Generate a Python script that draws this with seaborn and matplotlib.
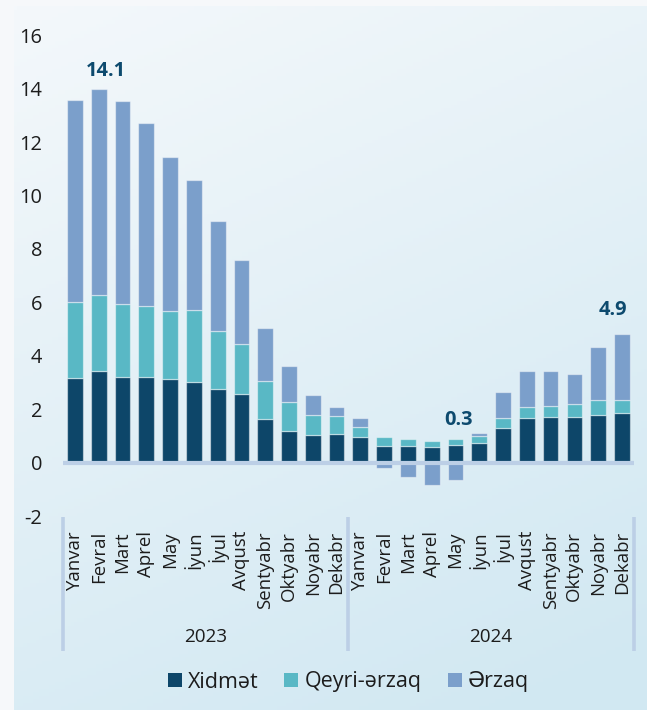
import numpy as np
import matplotlib
matplotlib.use("Agg")
import matplotlib.pyplot as plt
import matplotlib.transforms as mtransforms
from matplotlib.patches import Patch
import seaborn as sns

# ---------------- data ----------------
months = ["Yanvar", "Fevral", "Mart", "Aprel", "May", "İyun", "İyul",
          "Avqust", "Sentyabr", "Oktyabr", "Noyabr", "Dekabr"]
years = ["2023", "2024"]

xidmet = [3.18, 3.43, 3.20, 3.20, 3.15, 3.02, 2.77, 2.57, 1.62, 1.20, 1.05, 1.09,
          0.95, 0.64, 0.64, 0.58, 0.66, 0.73, 1.28, 1.68, 1.70, 1.71, 1.80, 1.86]
qeyri_erzaq = [2.82, 2.83, 2.73, 2.68, 2.52, 2.69, 2.16, 1.89, 1.43, 1.07, 0.72, 0.65,
               0.40, 0.31, 0.24, 0.22, 0.24, 0.28, 0.41, 0.40, 0.43, 0.47, 0.54, 0.50]
erzaq = [7.58, 7.74, 7.62, 6.83, 5.78, 4.86, 4.11, 3.12, 2.00, 1.36, 0.77, 0.34,
         0.32, -0.19, -0.55, -0.85, -0.65, 0.09, 0.95, 1.36, 1.31, 1.15, 1.99, 2.45]

series_names = ["Xidmət", "Qeyri-ərzaq", "Ərzaq"]
series_colors = ["#0d4669", "#59b8c5", "#7b9fcb"]

y_ticks = [-2, 0, 2, 4, 6, 8, 10, 12, 14, 16]
y_tick_labels = ["-2", "0", "2", "4", "6", "8", "10", "12", "14", "16"]

annot_idx = [1, 16, 23]
annot_text = ["14.1", "0.3", "4.9"]
annot_offsets = [(5, 9), (2, 9.5), (-6.5, 13.5)]  # points

# ---------------- setup ----------------
plt.rcParams["font.family"] = ["Open Sans", "DejaVu Sans"]
plt.rcParams["axes.unicode_minus"] = False

W, H = 647, 710
fig = plt.figure(figsize=(W / 100, H / 100), dpi=100)
fig.patch.set_facecolor("#f6f8fa")

# gradient background panel
bg = fig.add_axes([14 / W, 0, 1 - 14 / W, 704 / H], zorder=-10)
nx, ny = 200, 200
xx, yy = np.meshgrid(np.linspace(0, 1, nx), np.linspace(0, 1, ny))
t = np.clip(0.3 * xx + 0.75 * yy, 0, 1)
c0 = np.array([0xf4, 0xf8, 0xfb]) / 255
c1 = np.array([0xd1, 0xe8, 0xf2]) / 255
img = c0[None, None, :] * (1 - t[..., None]) + c1[None, None, :] * t[..., None]
bg.imshow(img, aspect="auto", extent=[0, 1, 1, 0], origin="upper")
bg.set_axis_off()

left_px, right_px = 63.1, 633.8
top_px, bottom_px = 35.2, 516.1
ax = fig.add_axes([left_px / W, 1 - bottom_px / H,
                   (right_px - left_px) / W, (bottom_px - top_px) / H])
ax.set_facecolor("none")

n = len(xidmet)
cats = [f"{years[i // 12]}-{months[i % 12]}" for i in range(n)]

x_arr = np.array(xidmet)
q_arr = np.array(qeyri_erzaq)
e_arr = np.array(erzaq)
bottoms = [np.zeros(n), x_arr, np.where(e_arr >= 0, x_arr + q_arr, 0.0)]
values = [x_arr, q_arr, e_arr]

for vals, bots, col in zip(values, bottoms, series_colors):
    sns.barplot(x=cats, y=vals, bottom=bots, order=cats, color=col,
                width=0.66, errorbar=None, ax=ax, saturation=1,
                edgecolor=(1, 1, 1, 0.45), linewidth=0.9, zorder=2)

ax.axhline(0, color="#bccfe6", lw=3, zorder=3)

ax.set_xlim(-0.5, n - 0.5)
ax.set_ylim(-2, 16)
ax.set_yticks(y_ticks)
ax.set_yticklabels(y_tick_labels, fontsize=14.4, color="#1c1c1c")
ax.set_xticks(range(n))
ax.set_xticklabels([months[i % 12] for i in range(n)], rotation=90,
                   fontsize=13.4, color="#1c1c1c", va="top", ha="center")
ax.tick_params(axis="y", length=0, pad=15)
ax.tick_params(axis="x", length=0, pad=10.8)
ax.set_xlabel("")
ax.set_ylabel("")
for s in ax.spines.values():
    s.set_visible(False)
ax.grid(False)

# annotations
tops = np.maximum(x_arr + q_arr + np.clip(e_arr, 0, None), 0)
for idx, txt, off in zip(annot_idx, annot_text, annot_offsets):
    ax.annotate(txt, xy=(idx, tops[idx]), xytext=off, textcoords="offset points",
                ha="center", va="baseline", fontsize=14.4, fontweight="bold",
                color="#0d4a6e")

# group separators and year labels
trans = mtransforms.blended_transform_factory(ax.transData, fig.transFigure)
y0f, y1f = 1 - 517 / H, 1 - 651 / H
for xs in [-0.5, 11.5, n - 0.5]:
    ax.plot([xs, xs], [y0f, y1f], transform=trans, color="#bccfe6",
            lw=2.6, clip_on=False, solid_capstyle="butt")
for k, yr in enumerate(years):
    ax.text(k * 12 + 5.5, 1 - 637.5 / H, yr, transform=trans, ha="center",
            va="center", fontsize=13.6, color="#1c1c1c")

# legend
handles = [Patch(facecolor=c, edgecolor="none", label=l)
           for c, l in zip(series_colors, series_names)]
leg = fig.legend(handles=handles, loc="center",
                 bbox_to_anchor=((left_px + right_px) / 2 / W, 1 - 682 / H),
                 ncol=3, frameon=False, fontsize=15.5, handlelength=0.65,
                 handleheight=0.65, handletextpad=0.3, columnspacing=1.2,
                 borderaxespad=0, borderpad=0)
for tx in leg.get_texts():
    tx.set_color("#1c1c1c")

fig.savefig("out.png", dpi=100)
